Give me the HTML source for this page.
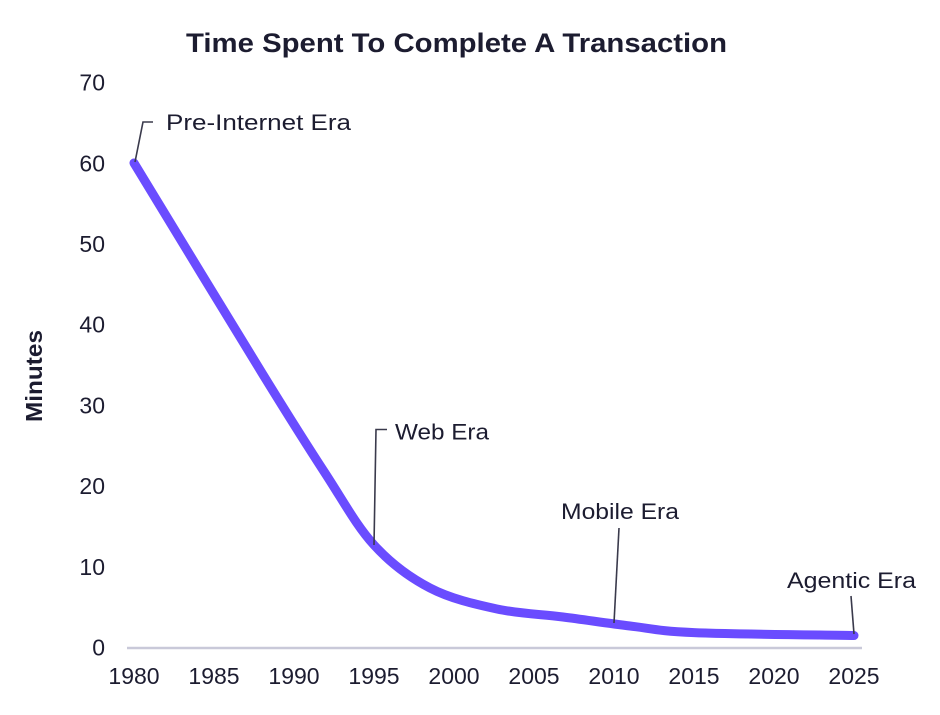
<!DOCTYPE html>
<html>
<head>
<meta charset="utf-8">
<style>
  html, body { margin: 0; padding: 0; background: #ffffff; }
  svg { display: block; }
  text { font-family: "Liberation Sans", sans-serif; fill: #1c1c30; }
</style>
</head>
<body>
<svg width="940" height="715" viewBox="0 0 940 715" xmlns="http://www.w3.org/2000/svg">
  <rect width="940" height="715" fill="#ffffff"/>

  <!-- Title -->
  <text x="186" y="52" font-size="27" font-weight="bold" textLength="541" lengthAdjust="spacingAndGlyphs" fill="#0f0f1f">Time Spent To Complete A Transaction</text>

  <!-- Y axis title -->
  <text transform="translate(42,376) rotate(-90)" text-anchor="middle" font-size="23" font-weight="bold" textLength="92" lengthAdjust="spacingAndGlyphs" fill="#0f0f1f">Minutes</text>

  <!-- Y tick labels -->
  <g font-size="23" text-anchor="end">
    <text x="105" y="90.5">70</text>
    <text x="105" y="171.3">60</text>
    <text x="105" y="252">50</text>
    <text x="105" y="332.7">40</text>
    <text x="105" y="413.4">30</text>
    <text x="105" y="494.1">20</text>
    <text x="105" y="574.8">10</text>
    <text x="105" y="655.5">0</text>
  </g>

  <!-- X axis line -->
  <line x1="127" y1="648" x2="862" y2="648" stroke="#c9c9d9" stroke-width="2.5"/>

  <!-- X tick labels -->
  <g font-size="23" text-anchor="middle">
    <text x="134" y="684">1980</text>
    <text x="214" y="684">1985</text>
    <text x="294" y="684">1990</text>
    <text x="374" y="684">1995</text>
    <text x="454" y="684">2000</text>
    <text x="534" y="684">2005</text>
    <text x="614" y="684">2010</text>
    <text x="694" y="684">2015</text>
    <text x="774" y="684">2020</text>
    <text x="854" y="684">2025</text>
  </g>

  <!-- Data line (smooth) -->
  <path fill="none" stroke="#6a4cff" stroke-width="9" stroke-linecap="round" stroke-linejoin="round"
    d="M134,163
       C155.3,198 230.2,321.3 262,373
       C293.8,424.7 306.3,444.3 325,473
       C343.7,501.7 356.5,525.8 374,545
       C391.5,564.2 409.5,577.3 430,588
       C450.5,598.7 474.8,604.2 497,609
       C519.2,613.8 540.8,614.2 563,617
       C585.2,619.8 608.2,623.4 630,626
       C651.8,628.6 656.7,631 694,632.6
       C731.3,634.2 827.3,635 854,635.5"/>

  <!-- Leader lines -->
  <g fill="none" stroke="#3a3a4c" stroke-width="1.6">
    <polyline points="135,162 143,122 153,122"/>
    <polyline points="374,545 376,429.5 387,429.5"/>
    <line x1="619" y1="528" x2="614" y2="623"/>
    <line x1="851" y1="596" x2="854" y2="634"/>
  </g>

  <!-- Annotations -->
  <g font-size="22">
    <text x="166" y="130" textLength="185" lengthAdjust="spacingAndGlyphs">Pre-Internet Era</text>
    <text x="395" y="439.5" textLength="94" lengthAdjust="spacingAndGlyphs">Web Era</text>
    <text x="561" y="519" textLength="118" lengthAdjust="spacingAndGlyphs">Mobile Era</text>
    <text x="787" y="588" textLength="129" lengthAdjust="spacingAndGlyphs">Agentic Era</text>
  </g>
</svg>
</body>
</html>
